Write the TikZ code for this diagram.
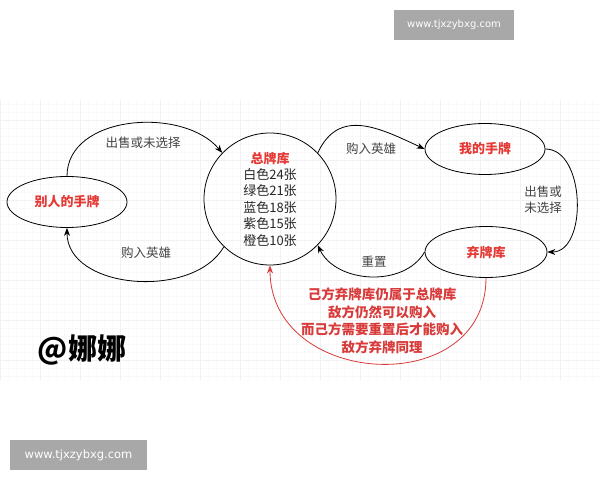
\documentclass[tikz,border=0pt]{standalone}
\usepackage{fontspec}
\setmainfont{Noto Sans CJK SC}
\newfontfamily\markfont{DejaVu Sans}
\usetikzlibrary{shapes.geometric,arrows.meta}

\definecolor{cardred}{HTML}{E53935}
\definecolor{notered}{HTML}{D93A3A}
\definecolor{labelgray}{HTML}{444444}
\definecolor{markgray}{HTML}{A8A8A8}

\tikzset{
  state/.style={draw, thick, ellipse, minimum width=120pt, minimum height=51pt,
    font=\fontsize{13}{16}\selectfont\bfseries, text=cardred},
  flow/.style={thick, -{Stealth[length=8pt,width=6pt]}},
  flowlabel/.style={font=\fontsize{12.5}{16}\selectfont, text=labelgray, align=center},
  watermark/.style={fill=markgray, text=white, font=\markfont, inner sep=0pt}
}

\begin{document}
\begin{tikzpicture}[x=1pt, y=1pt]
                    \useasboundingbox (0,0) rectangle (600,480);
                    \fill[white] (0,0) rectangle (600,480);

                    % grid paper
                    \draw[gray!5, line width=0.4pt] (0,100) grid[step=8] (600,380);
                    \draw[gray!11, line width=0.5pt] (0,100) grid[step=40] (600,380);

                    \node[draw, thick, circle, minimum size=132pt, align=center,
                          font=\fontsize{13}{16.4}\selectfont, text=black!85] (pool) at (270,281)
                        {{\color{cardred}\bfseries 总牌库}\\白色24张\\绿色21张\\蓝色18张\\紫色15张\\橙色10张};
                    \node[state] (others) at (67,278) {别人的手牌};
                    \node[state] (mine) at (485,331) {我的手牌};
                    \node[state, minimum width=122pt] (discard) at (486,228) {弃牌库};

                    \draw[flow] (others.north) to[out=90, in=130] (pool.136);
                    \draw[flow] (pool.226) to[out=240, in=-90] (others.south);
                    \draw[flow] (pool.44) to[out=65, in=155, looseness=1.2] (mine.west);
                    \draw[flow] (mine.east) to[out=0, in=0] (discard.east);
                    \draw[flow] (discard.west) to[out=240, in=-65] (pool.-44);
                    \draw[flow, notered] (discard.south) to[out=-90, in=-90, looseness=1.45] (pool.south);

                    \node[flowlabel] (sellA) at (143,337) {出售或未选择};
                    \node[flowlabel] (buyA) at (146,227) {购入英雄};
                    \node[flowlabel] (buyB) at (371,331) {购入英雄};
                    \node[flowlabel] (sellB) at (543,280) {出售或\\未选择};
                    \node[flowlabel] (reset) at (374,218) {重置};

                    \node[align=center, text=notered, font=\fontsize{13.5}{17.5}\selectfont\bfseries] (note) at (382,159)
                        {己方弃牌库仍属于总牌库\\敌方仍然可以购入\\而己方需要重置后才能购入\\敌方弃牌同理};

                    \node[font=\fontsize{29}{32}\selectfont\bfseries] (author) at (82,130) {@娜娜};

                    \node[watermark, minimum width=120pt, minimum height=30pt, font=\markfont\fontsize{10}{12}\selectfont] (markA) at (454,455) {www.tjxzybxg.com};
                    \node[watermark, minimum width=137pt, minimum height=30pt, font=\markfont\fontsize{11.5}{13}\selectfont] (markB) at (78.5,25) {www.tjxzybxg.com};
                \end{tikzpicture}
\end{document}
